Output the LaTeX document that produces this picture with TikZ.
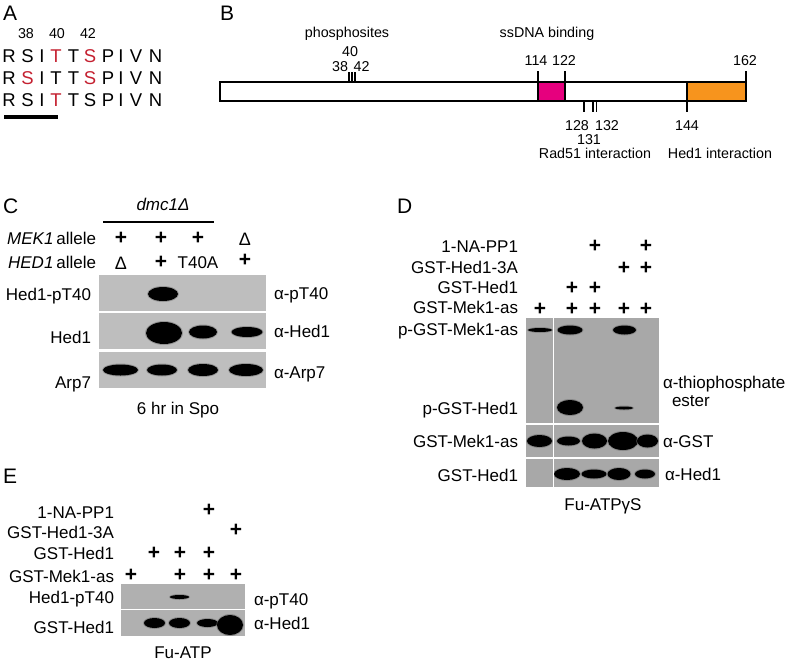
\documentclass[tikz,border=0pt]{standalone}
\usepackage{fontspec}
\setmainfont{Liberation Sans}
\definecolor{seqred}{RGB}{196,32,48}
\definecolor{ssdna}{RGB}{230,0,126}
\definecolor{hedint}{RGB}{247,148,29}
\definecolor{blotC}{RGB}{190,190,190}
\definecolor{blotD}{RGB}{168,168,168}
\definecolor{blotE}{RGB}{176,176,176}
\newcommand{\bandat}[4]{%
  \fill[black!60,opacity=0.45] (#1,#2) ellipse [x radius={#3*0.5pt+1pt}, y radius={#4*0.5pt+1pt}];
  \fill[black] (#1,#2) ellipse [x radius={#3*0.5pt}, y radius={#4*0.5pt}];}
\begin{document}
\begin{tikzpicture}[x=1pt,y=-1pt,
  every node/.style={inner sep=0pt,outer sep=0pt},
  panel/.style={font=\fontsize{21}{24}\selectfont, anchor=base west},
  seq/.style={font=\fontsize{18.5}{20}\selectfont, anchor=base},
  small/.style={font=\fontsize{14.3}{16}\selectfont, anchor=base},
  lbl/.style={font=\fontsize{17}{20}\selectfont},
  rlbl/.style={lbl, anchor=base east},
  llbl/.style={lbl, anchor=base west},
  clbl/.style={lbl, anchor=base},
  pl/.style={font=\bfseries\fontsize{21}{22}\selectfont, anchor=center},
  dl/.style={font=\fontsize{18}{20}\selectfont, anchor=center},
  tick/.style={line width=1.5pt},
  bar/.style={line width=1.8pt}]
\useasboundingbox (0,0) rectangle (792,662);

% ---------------- Panel A
\node[panel] (lA) at (3,20) {A};
\foreach \n/\x in {38/26,40/57,42/88}
  \node[small, name=anum\n] at (\x,38) {\n};
\foreach \L/\x/\ca/\cb/\cc [count=\i] in {R/9/black/black/black, S/27.5/black/seqred/black, I/42/black/black/black, T/56/seqred/black/seqred, T/73.5/black/black/black, S/90/seqred/seqred/black, P/108/black/black/black, I/121/black/black/black, V/136/black/black/black, N/155.5/black/black/black}{
  \node[seq, text=\ca, name=sa\i] at (\x,62.5) {\L};
  \node[seq, text=\cb, name=sb\i] at (\x,84.5) {\L};
  \node[seq, text=\cc, name=sc\i] at (\x,106.5) {\L};
}
\coordinate (ulA) at (4,117);
\coordinate (ulB) at (58,117);
\draw[line width=3.5pt] (ulA) -- (ulB);

% ---------------- Panel B
\node[panel] (lB) at (220,20) {B};
\fill[ssdna] (538,82) rectangle (565,101);
\fill[hedint] (687,82) rectangle (746,101);
\draw[bar] (220,82) rectangle (746,101);
\draw[bar] (538,82) -- (538,101) (565,82) -- (565,101) (687,82) -- (687,101);
\draw[tick] (538,71) -- (538,82) (565,71) -- (565,82) (746,71) -- (746,82);
\draw[line width=1.2pt] (349,72) -- (349,82) (352,72) -- (352,82) (355,72) -- (355,82);
\draw[tick] (584,101) -- (584,112) (687,101) -- (687,112);
\draw[line width=1.2pt] (593,101) -- (593,112) (596.5,101) -- (596.5,112);
\node[small] (phos) at (347,37) {phosphosites};
\node[small] (ssdnat) at (547,37) {ssDNA binding};
\node[small] (b40) at (350,56) {40};
\node[small] (b38) at (340,71) {38};
\node[small] (b42) at (361.5,71) {42};
\node[small] (b114) at (536,65) {114};
\node[small] (b122) at (564,65) {122};
\node[small] (b162) at (745,65) {162};
\node[small] (b128) at (577,130) {128};
\node[small] (b132) at (607,130) {132};
\node[small] (b144) at (687,130) {144};
\node[small] (b131) at (589,144) {131};
\node[small] (rad) at (595,158) {Rad51 interaction};
\node[small] (hedi) at (720,158) {Hed1 interaction};

% ---------------- Panel C
\node[panel] (lC) at (3,213) {C};
\node[clbl] (dmc) at (163,210) {\textit{dmc1Δ}};
\coordinate (dmcL) at (103,222);
\coordinate (dmcR) at (214,222);
\draw[line width=1.5pt] (dmcL) -- (dmcR);
\node[rlbl] (mek) at (96,244) {\textit{MEK1}\,allele};
\node[rlbl] (hed) at (96,268) {\textit{HED1}\,allele};
\node[pl] (cp11) at (121,238) {+};
\node[pl] (cp12) at (161,238) {+};
\node[pl] (cp13) at (198,238) {+};
\node[dl] (cp14) at (245,239) {Δ};
\node[dl] (cp21) at (121,263) {Δ};
\node[pl] (cp22) at (161,262) {+};
\node[clbl] (cp23) at (198,268) {T40A};
\node[pl] (cp24) at (245,260) {+};
\fill[blotC] (99,275) rectangle (266,311);
\fill[blotC] (99,313) rectangle (266,349);
\fill[blotC] (99,352) rectangle (266,388);
\bandat{163}{294}{30}{14}
\bandat{164}{333}{36}{22}
\bandat{203}{332}{28}{13}
\bandat{247}{332}{31}{10}
\bandat{120.5}{370}{35}{11}
\bandat{162}{370}{30}{11}
\bandat{203}{370}{30}{12}
\bandat{246}{370}{34}{12}
\node[rlbl] (c1) at (91,300) {Hed1-pT40};
\node[rlbl] (c2) at (91,343) {Hed1};
\node[rlbl] (c3) at (91,388) {Arp7};
\node[llbl] (c4) at (274,299) {α-pT40};
\node[llbl] (c5) at (274,337) {α-Hed1};
\node[llbl] (c6) at (274,378) {α-Arp7};
\node[clbl] (c7) at (178,414) {6 hr in Spo};

% ---------------- Panel D
\node[panel] (lD) at (397,213) {D};
\node[rlbl] (d1) at (518,252) {1-NA-PP1};
\node[rlbl] (d2) at (518,273) {GST-Hed1-3A};
\node[rlbl] (d3) at (518,293) {GST-Hed1};
\node[rlbl] (d4) at (518,313) {GST-Mek1-as};
\node[rlbl] (d5) at (518,335) {p-GST-Mek1-as};
\node[rlbl] (d6) at (518,414) {p-GST-Hed1};
\node[rlbl] (d7) at (518,447) {GST-Mek1-as};
\node[rlbl] (d8) at (518,481) {GST-Hed1};
\node[pl] (dp13) at (595,246) {+};
\node[pl] (dp15) at (646,246) {+};
\node[pl] (dp24) at (624,268) {+};
\node[pl] (dp25) at (646,268) {+};
\node[pl] (dp32) at (572,288) {+};
\node[pl] (dp33) at (595,288) {+};
\foreach \x [count=\i] in {540,572,595,624,646}
  \node[pl, name=dp4\i] at (\x,309) {+};
\fill[blotD] (526,318) rectangle (659,423);
\fill[blotD] (526,425) rectangle (659,457);
\fill[blotD] (526,459) rectangle (659,487);
\bandat{540}{330}{24}{4}
\bandat{570}{330}{25}{9}
\bandat{624.5}{330}{23}{9}
\bandat{570}{407.5}{26}{15}
\bandat{624}{408}{18}{3}
\bandat{539.5}{441}{25}{12}
\bandat{568.5}{441}{23}{9}
\bandat{594.5}{441}{25}{15}
\bandat{623}{441}{30}{18}
\bandat{647.5}{441}{21}{13}
\bandat{567}{474}{26}{12}
\bandat{594}{474}{25}{9}
\bandat{619}{474}{23}{12}
\bandat{645}{474}{20}{9}
\draw[white, line width=1pt] (553,318) -- (553,487);
\node[llbl] (d9) at (663,388) {α-thiophosphate};
\node[llbl] (d10) at (672,406) {ester};
\node[llbl] (d11) at (663,447) {α-GST};
\node[llbl] (d12) at (665,480) {α-Hed1};
\node[clbl] (d13) at (603,510) {Fu-ATPγS};

% ---------------- Panel E
\node[panel] (lE) at (3,483) {E};
\node[rlbl] (e1) at (114,518) {1-NA-PP1};
\node[rlbl] (e2) at (114,538) {GST-Hed1-3A};
\node[rlbl] (e3) at (114,559) {GST-Hed1};
\node[rlbl] (e4) at (114,582) {GST-Mek1-as};
\node[rlbl] (e5) at (114,603) {Hed1-pT40};
\node[rlbl] (e6) at (114,633) {GST-Hed1};
\node[pl] (ep14) at (209,510) {+};
\node[pl] (ep25) at (236,530) {+};
\node[pl] (ep32) at (154,553) {+};
\node[pl] (ep33) at (180,553) {+};
\node[pl] (ep34) at (209,553) {+};
\node[pl] (ep41) at (131,575) {+};
\node[pl] (ep43) at (180,575) {+};
\node[pl] (ep44) at (209,575) {+};
\node[pl] (ep45) at (236,575) {+};
\fill[blotE] (121,584) rectangle (245,609);
\fill[blotE] (121,610) rectangle (245,636);
\bandat{179.5}{597}{19}{4}
\bandat{154.5}{623}{21}{10}
\bandat{179.5}{623}{21}{10}
\bandat{207.5}{623}{21}{8}
\bandat{230}{625}{26}{20}
\node[llbl] (e7) at (254,605) {α-pT40};
\node[llbl] (e8) at (254,629) {α-Hed1};
\node[clbl] (e9) at (183,658) {Fu-ATP};
\end{tikzpicture}
\end{document}
